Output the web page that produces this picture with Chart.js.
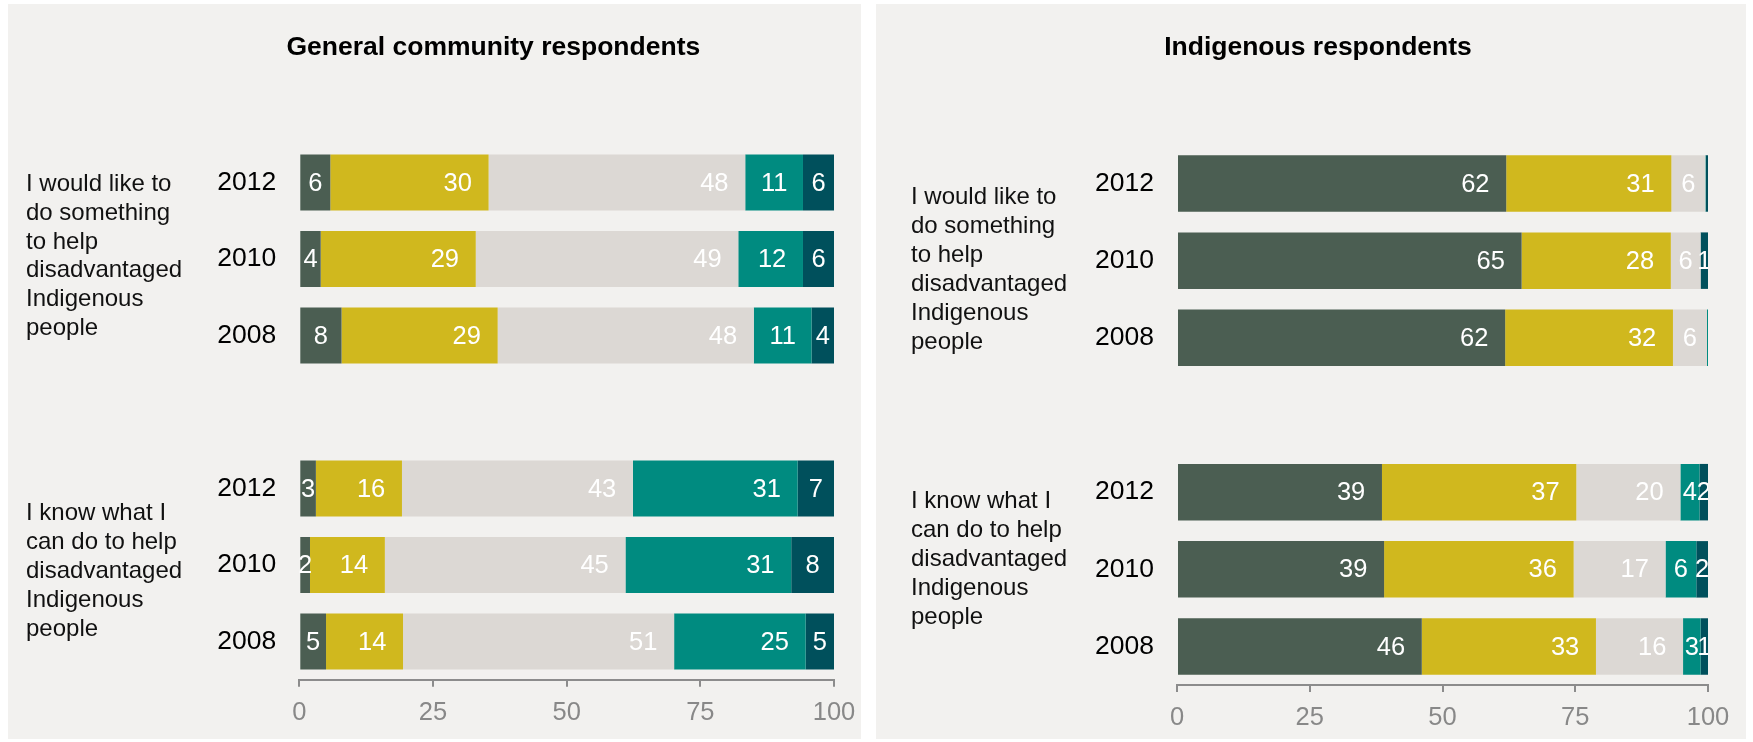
<!DOCTYPE html>
<html>
<head>
<meta charset="utf-8">
<script src="https://cdn.jsdelivr.net/npm/chart.js@4.4.1/dist/chart.umd.min.js"></script>
<style>
  body { margin: 0; background: #fff; width: 1753px; height: 742px; overflow: hidden; }
  .panel { position: absolute; top: 4px; height: 735px; background: #f2f1ef; }
  #leftPanel { left: 8px; width: 853px; }
  #rightPanel { left: 876px; width: 870px; }
</style>
</head>
<body>
<div class="panel" id="leftPanel"><canvas id="general" width="853" height="735"></canvas></div>
<div class="panel" id="rightPanel"><canvas id="indigenous" width="870" height="735"></canvas></div>
<script>
// categories (blank row separates the two statements)
const years = ['2012', '2010', '2008', '', '2012', '2010', '2008'];
const xTicks = [0, 25, 50, 75, 100];
const seriesNames = ['Strongly agree', 'Agree', 'Neither', 'Disagree', 'Strongly disagree'];
const seriesColors = ['#4b5e52', '#d0b81e', '#dcd8d4', '#008b80', '#00505c'];

const statementLike = ['I would like to', 'do something', 'to help', 'disadvantaged', 'Indigenous', 'people'];
const statementKnow = ['I know what I', 'can do to help', 'disadvantaged', 'Indigenous', 'people'];

// General community respondents (%)
const genStrongAgree    = [5.8, 4.0, 7.9, null, 3.1, 2.0, 5.0];
const genAgree          = [29.6, 29.0, 29.2, null, 16.1, 14.0, 14.4];
const genNeither        = [48.0, 49.1, 47.9, null, 43.2, 45.0, 50.7];
const genDisagree       = [10.8, 12.1, 10.8, null, 30.8, 31.0, 24.6];
const genStrongDisagree = [5.8, 5.8, 4.2, null, 6.8, 8.0, 5.3];

// Indigenous respondents (%)
const indStrongAgree    = [62.0, 64.9, 61.8, null, 38.6, 39.0, 46.1];
const indAgree          = [31.1, 28.1, 31.6, null, 36.6, 35.7, 32.8];
const indNeither        = [6.4, 5.6, 6.4, null, 19.6, 17.3, 16.4];
const indDisagree       = [0.1, 0, 0.2, null, 3.6, 5.8, 3.3];
const indStrongDisagree = [0.4, 1.4, 0, null, 1.6, 2.2, 1.4];

const FONT = '"Liberation Sans", Arial, sans-serif';

// white value labels inside each segment, near its end
const segmentLabels = {
  id: 'segmentLabels',
  afterDatasetsDraw(chart) {
    const { ctx, chartArea } = chart;
    ctx.save();
    ctx.beginPath();
    ctx.rect(chartArea.left, chartArea.top, chartArea.right - chartArea.left, chartArea.bottom - chartArea.top);
    ctx.clip();
    ctx.font = '25.5px ' + FONT;
    ctx.fillStyle = '#ffffff';
    ctx.textAlign = 'center';
    ctx.textBaseline = 'middle';
    chart.data.datasets.forEach((ds, di) => {
      chart.getDatasetMeta(di).data.forEach((bar, i) => {
        const v = ds.data[i];
        if (v == null || Math.round(v) === 0) return;
        const s = String(Math.round(v));
        const w = ctx.measureText(s).width;
        const start = Math.min(bar.base, bar.x);
        const end = Math.max(bar.base, bar.x);
        const cx = Math.max((start + end) / 2, end - 16.7 - w / 2);
        ctx.fillText(s, cx, bar.y + 1);
      });
    });
    ctx.restore();
  }
};

// panel title and the statement text left of the years
const panelText = {
  id: 'panelText',
  afterDraw(chart, args, opts) {
    const ctx = chart.ctx;
    const yScale = chart.scales.y;
    ctx.save();
    ctx.fillStyle = '#000';
    ctx.textBaseline = 'middle';
    ctx.textAlign = 'center';
    ctx.font = 'bold 26.5px ' + FONT;
    ctx.fillText(opts.title, opts.titleX, opts.titleY);
    ctx.textAlign = 'left';
    ctx.font = '24px ' + FONT;
    ctx.fillStyle = '#111';
    opts.groups.forEach(g => {
      const y0 = yScale.getPixelForValue(g.index) + g.offset;
      g.lines.forEach((line, k) => ctx.fillText(line, opts.textX, y0 + k * g.step));
    });
    ctx.restore();
  }
};

function makeChart(id, series, p) {
  return new Chart(document.getElementById(id), {
    type: 'bar',
    data: {
      labels: years,
      datasets: series.map((d, i) => ({
        label: seriesNames[i],
        data: d,
        backgroundColor: seriesColors[i],
        borderWidth: 0,
        barPercentage: 0.732,
        categoryPercentage: 1
      }))
    },
    options: {
      indexAxis: 'y',
      responsive: false,
      animation: false,
      layout: { padding: { left: 0, right: p.right, top: p.top, bottom: 0 } },
      scales: {
        x: {
          stacked: true,
          min: 0,
          max: 100,
          afterBuildTicks: s => { s.ticks = xTicks.map(v => ({ value: v })); },
          afterFit: s => { s.height = p.xHeight; s.paddingLeft = 0; s.paddingRight = 0; },
          grid: { drawOnChartArea: false, drawTicks: true, tickLength: 7, color: '#8c8c8c', lineWidth: 2 },
          border: { display: true, color: '#8c8c8c', width: 2 },
          ticks: { color: '#888888', font: { family: FONT, size: 25.5 }, padding: 11, maxRotation: 0 }
        },
        y: {
          stacked: true,
          afterFit: s => { s.width = p.yWidth; },
          grid: { display: false, drawTicks: false },
          border: { display: false },
          ticks: { color: '#000', font: { family: FONT, size: 26.5 }, padding: 23 }
        }
      },
      plugins: {
        legend: { display: false },
        tooltip: { enabled: false },
        panelText: p.text
      }
    },
    plugins: [segmentLabels, panelText]
  });
}

makeChart('general',
  [genStrongAgree, genAgree, genNeither, genDisagree, genStrongDisagree],
  {
    right: 27, top: 140.25, xHeight: 59.25, yWidth: 291.3,
    text: {
      title: 'General community respondents', titleX: 485.3, titleY: 44, textX: 18,
      groups: [
        { lines: statementLike, index: 1, offset: -74.7, step: 28.8 },
        { lines: statementKnow, index: 5, offset: -51.2, step: 29 }
      ]
    }
  });

makeChart('indigenous',
  [indStrongAgree, indAgree, indNeither, indDisagree, indStrongDisagree],
  {
    right: 38, top: 140.9, xHeight: 53.9, yWidth: 301,
    text: {
      title: 'Indigenous respondents', titleX: 442, titleY: 44, textX: 35,
      groups: [
        { lines: statementLike, index: 1, offset: -63.5, step: 29 },
        { lines: statementKnow, index: 5, offset: -68.2, step: 29 }
      ]
    }
  });
</script>
</body>
</html>
